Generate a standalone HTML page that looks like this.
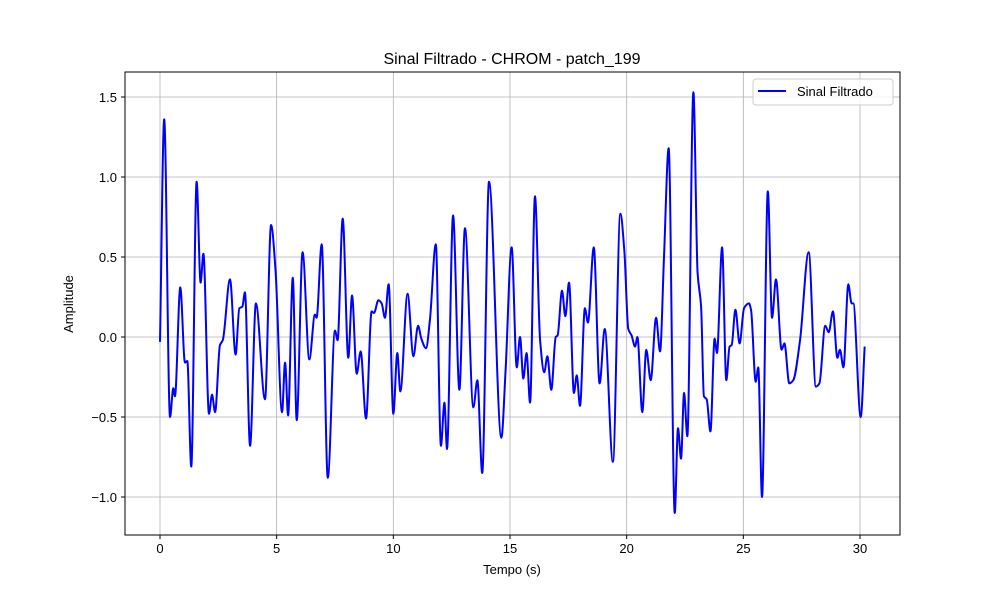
<!DOCTYPE html>
<html><head><meta charset="utf-8"><style>
body{margin:0;background:#fff;}
svg{display:block;font-family:"Liberation Sans","DejaVu Sans",sans-serif;}
</style></head><body>
<svg id="chart" width="1000" height="600" viewBox="0 0 1000 600">
<rect width="1000" height="600" fill="#fff"/>
<g id="grid"></g>
<path id="series" fill="none" stroke="#0000ff" stroke-width="2" stroke-linejoin="round"/>
<rect x="125" y="72" width="775" height="463" fill="none" stroke="#000" stroke-width="1"/>
<g id="ticks" font-size="13" fill="#000"></g>
<text x="512" y="64" text-anchor="middle" font-size="16">Sinal Filtrado - CHROM - patch_199</text>
<text x="512" y="574" text-anchor="middle" font-size="13">Tempo (s)</text>
<text x="73" y="304" text-anchor="middle" font-size="13" transform="rotate(-90 73 304)">Amplitude</text>
<g>
<rect x="753" y="79" width="140" height="26" rx="3" fill="#fff" fill-opacity="0.85" stroke="#ccc"/>
<line x1="758" y1="91" x2="786" y2="91" stroke="#0000ff" stroke-width="2"/>
<text x="797" y="96" font-size="13">Sinal Filtrado</text>
</g>
</svg>
<script>
const times=[0,0.18,0.43,0.57,0.64,0.87,1.07,1.17,1.34,1.57,1.74,1.86,2.1,2.23,2.36,2.57,2.69,3.0,3.24,3.4,3.53,3.64,3.86,4.11,4.5,4.76,4.95,5.23,5.36,5.49,5.69,5.86,6.11,6.4,6.64,6.71,6.93,7.19,7.5,7.61,7.83,8.07,8.23,8.43,8.6,8.83,9.07,9.17,9.36,9.5,9.64,9.8,10.0,10.17,10.3,10.61,10.86,11.06,11.2,11.4,11.57,11.82,12.04,12.19,12.3,12.56,12.83,13.07,13.43,13.6,13.81,14.1,14.63,14.81,15.07,15.29,15.43,15.57,15.71,15.86,16.07,16.29,16.47,16.6,16.77,16.96,17.04,17.23,17.37,17.53,17.74,17.86,18.0,18.21,18.34,18.59,18.84,19.06,19.41,19.73,19.9,20.07,20.21,20.36,20.46,20.67,20.84,21.03,21.26,21.43,21.6,21.8,22.06,22.2,22.33,22.46,22.6,22.86,23.04,23.19,23.31,23.43,23.59,23.77,23.87,24.09,24.27,24.41,24.5,24.66,24.84,25.03,25.24,25.33,25.53,25.64,25.8,26.05,26.23,26.4,26.64,26.76,26.97,27.14,27.43,27.8,28.11,28.26,28.51,28.66,28.84,29.03,29.14,29.29,29.5,29.64,29.71,30.03,30.2];
const amplitude=[-0.03,1.36,-0.5,-0.32,-0.37,0.31,-0.16,-0.15,-0.81,0.97,0.34,0.52,-0.48,-0.36,-0.47,-0.05,-0.02,0.36,-0.11,0.18,0.19,0.28,-0.68,0.21,-0.39,0.7,0.42,-0.47,-0.16,-0.49,0.37,-0.52,0.53,-0.14,0.14,0.12,0.58,-0.88,0.04,-0.02,0.74,-0.13,0.26,-0.23,-0.09,-0.51,0.16,0.15,0.23,0.21,0.12,0.33,-0.48,-0.1,-0.34,0.27,-0.12,0.07,-0.01,-0.07,0.11,0.58,-0.68,-0.41,-0.7,0.76,-0.33,0.68,-0.44,-0.27,-0.85,0.97,-0.63,-0.21,0.56,-0.19,0.0,-0.26,-0.1,-0.41,0.88,-0.02,-0.22,-0.12,-0.33,0.0,0.01,0.29,0.13,0.34,-0.35,-0.24,-0.43,0.18,0.09,0.56,-0.29,0.05,-0.78,0.77,0.54,0.05,0.01,-0.06,0.0,-0.47,-0.08,-0.27,0.12,-0.09,0.5,1.18,-1.1,-0.57,-0.76,-0.35,-0.62,1.53,0.4,0.19,-0.37,-0.39,-0.59,-0.01,-0.1,0.56,-0.27,-0.06,-0.05,0.17,-0.04,0.18,0.21,0.17,-0.28,-0.19,-1.0,0.91,0.12,0.36,-0.08,-0.04,-0.29,-0.27,-0.02,0.53,-0.31,-0.29,0.07,0.03,0.16,-0.13,-0.08,-0.19,0.33,0.21,0.21,-0.5,-0.06];
const xTicks=[0,5,10,15,20,25,30];
const yTicks=[-1.0,-0.5,0.0,0.5,1.0,1.5];
const xs=t=>160+t*(700/30);
const ys=v=>337-v*160;
const NS='http://www.w3.org/2000/svg';
const grid=document.getElementById('grid'),ticks=document.getElementById('ticks');
function mk(tag,attrs,parent){const e=document.createElementNS(NS,tag);for(const k in attrs)e.setAttribute(k,attrs[k]);parent.appendChild(e);return e;}
xTicks.forEach(t=>{const x=xs(t);
 const g=mk('line',{x1:x,x2:x,y1:72,y2:535,stroke:'#b0b0b0','stroke-width':0.8},grid);
 
 
 const tk=mk('line',{x1:x,x2:x,y1:535,y2:539,stroke:'#000'},ticks);
 
 
 const l=mk('text',{x:x,y:553,'text-anchor':'middle'},ticks);l.textContent=t;
 
 });
yTicks.forEach(v=>{const y=ys(v);
 const g=mk('line',{x1:125,x2:900,y1:y,y2:y,stroke:'#b0b0b0','stroke-width':0.8},grid);
 
 
 const tk=mk('line',{x1:121,x2:125,y1:y,y2:y,stroke:'#000'},ticks);
 
 
 const l=mk('text',{x:117,y:y+5,'text-anchor':'end'},ticks);l.textContent=v.toFixed(1).replace('-','\u2212');
 
 });
const P=times.map((t,i)=>[xs(t),ys(amplitude[i])]);
const n=P.length,d=[],m=new Array(n);
for(let i=0;i<n-1;i++)d.push((P[i+1][1]-P[i][1])/(P[i+1][0]-P[i][0]));
m[0]=d[0];m[n-1]=d[n-2];
for(let i=1;i<n-1;i++){if(d[i-1]*d[i]<=0)m[i]=0;else{const h0=P[i][0]-P[i-1][0],h1=P[i+1][0]-P[i][0];m[i]=3*(h0+h1)/((2*h1+h0)/d[i-1]+(h1+2*h0)/d[i]);}}
let s='M'+P[0][0]+','+P[0][1];
for(let i=0;i<n-1;i++){const h=(P[i+1][0]-P[i][0])/3;
 s+=' C'+(P[i][0]+h)+','+(P[i][1]+m[i]*h)+' '+(P[i+1][0]-h)+','+(P[i+1][1]-m[i+1]*h)+' '+P[i+1][0]+','+P[i+1][1];}
document.getElementById('series').setAttribute('d',s);
</script>
</body></html>
